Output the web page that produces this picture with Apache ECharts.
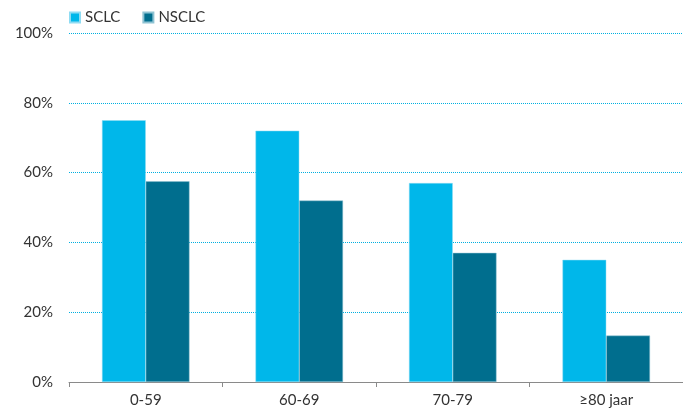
<!doctype html>
<html lang="nl">
<head>
	<meta charset="utf-8" />
	<title>SCLC vs NSCLC per leeftijd</title>
	<script src="https://cdn.jsdelivr.net/npm/echarts@6/dist/echarts.min.js"></script>
	<style>
		html, body { margin: 0; padding: 0; background: #fff; }
		#chart { width: 683px; height: 415px; }
	</style>
</head>
<body>
	<div id="chart"></div>
	<script>
		var categories = ['0-59', '60-69', '70-79', '\u226580 jaar'];
		var sclc = [75, 72, 57, 35];
		var nsclc = [57.5, 52, 37, 13.3];

		var myChart = echarts.init(document.getElementById('chart'));
		var font = 'Lato, "Open Sans", sans-serif';

		var option = {
			animation: false,
			textStyle: { fontFamily: font },
			legend: {
				left: 64,
				top: 5,
				itemWidth: 10,
				itemHeight: 10,
				itemGap: 22,
				icon: 'rect',
				textStyle: { fontFamily: font, fontSize: 15, color: '#333' },
				data: ['SCLC', 'NSCLC']
			},
			grid: {
				left: 69,
				right: 0,
				top: 33,
				bottom: 33,
				containLabel: false
			},
			xAxis: {
				type: 'category',
				data: categories,
				axisLine: { lineStyle: { color: '#8a8a8a', width: 1 } },
				axisTick: { show: true, length: 5, lineStyle: { color: '#8a8a8a' } },
				axisLabel: { fontSize: 15, color: '#333', margin: 11, fontFamily: font }
			},
			yAxis: {
				type: 'value',
				min: 0,
				max: 100,
				interval: 20,
				axisLine: { show: false },
				axisTick: { show: false },
				axisLabel: { formatter: '{value}%', fontSize: 15, color: '#333', margin: 16, fontFamily: font },
				splitLine: { lineStyle: { color: '#00b0e0', type: 'dotted', width: 1 } }
			},
			series: [{
				name: 'SCLC',
				type: 'bar',
				data: sclc,
				barGap: '0%',
				barCategoryGap: '43%',
				itemStyle: { color: '#00b7ea', borderColor: '#8fdcf3', borderWidth: 0.5 }
			}, {
				name: 'NSCLC',
				type: 'bar',
				data: nsclc,
				itemStyle: { color: '#006e8e', borderColor: '#8fc3d3', borderWidth: 0.5 }
			}]
		};
		myChart.setOption(option);
	</script>
</body>
</html>
